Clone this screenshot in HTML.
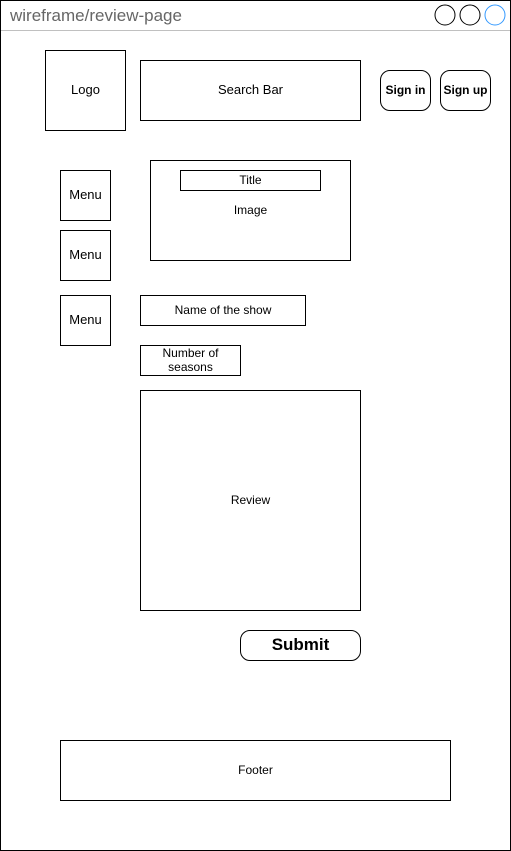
<!DOCTYPE html><html><head><style>
body{margin:0;width:511px;height:851px;background:#fff;font-family:"Liberation Sans",Arial,sans-serif;position:relative;overflow:hidden}
.b{position:absolute;border:1px solid #000;box-sizing:border-box;display:flex;align-items:center;justify-content:center;text-align:center;font-size:12px;color:#000;background:#fff;padding-bottom:2px}
.r{border-radius:10px;font-weight:bold}
.l{font-size:13px}
</style></head><body>
<div class="b" style="left:0;top:0;width:511px;height:851px"></div>
<div style="position:absolute;left:1px;top:30px;width:509px;height:1px;background:#c0c0c0"></div>
<div style="position:absolute;left:10px;top:6px;font-size:17px;color:#666">wireframe/review-page</div>
<svg style="position:absolute;left:0;top:0" width="511" height="31"><circle cx="445" cy="15" r="10" fill="none" stroke="#000"/><circle cx="470" cy="15" r="10" fill="none" stroke="#000"/><circle cx="495" cy="15" r="10" fill="none" stroke="#3399ff"/></svg>
<div class="b l" style="left:45px;top:50px;width:81px;height:81px">Logo</div>
<div class="b l" style="left:140px;top:60px;width:221px;height:61px">Search Bar</div>
<div class="b r" style="left:380px;top:70px;width:51px;height:41px">Sign in</div>
<div class="b r" style="left:440px;top:70px;width:51px;height:41px">Sign up</div>
<div class="b l" style="left:60px;top:170px;width:51px;height:51px">Menu</div>
<div class="b l" style="left:60px;top:230px;width:51px;height:51px">Menu</div>
<div class="b l" style="left:60px;top:295px;width:51px;height:51px">Menu</div>
<div class="b" style="left:150px;top:160px;width:201px;height:101px">Image</div>
<div class="b" style="left:180px;top:170px;width:141px;height:21px">Title</div>
<div class="b" style="left:140px;top:295px;width:166px;height:31px">Name of the show</div>
<div class="b" style="left:140px;top:345px;width:101px;height:31px;line-height:14px">Number of<br>seasons</div>
<div class="b" style="left:140px;top:390px;width:221px;height:221px">Review</div>
<div class="b r" style="left:240px;top:630px;width:121px;height:31px;font-size:17px">Submit</div>
<div class="b" style="left:60px;top:740px;width:391px;height:61px">Footer</div>
</body></html>
